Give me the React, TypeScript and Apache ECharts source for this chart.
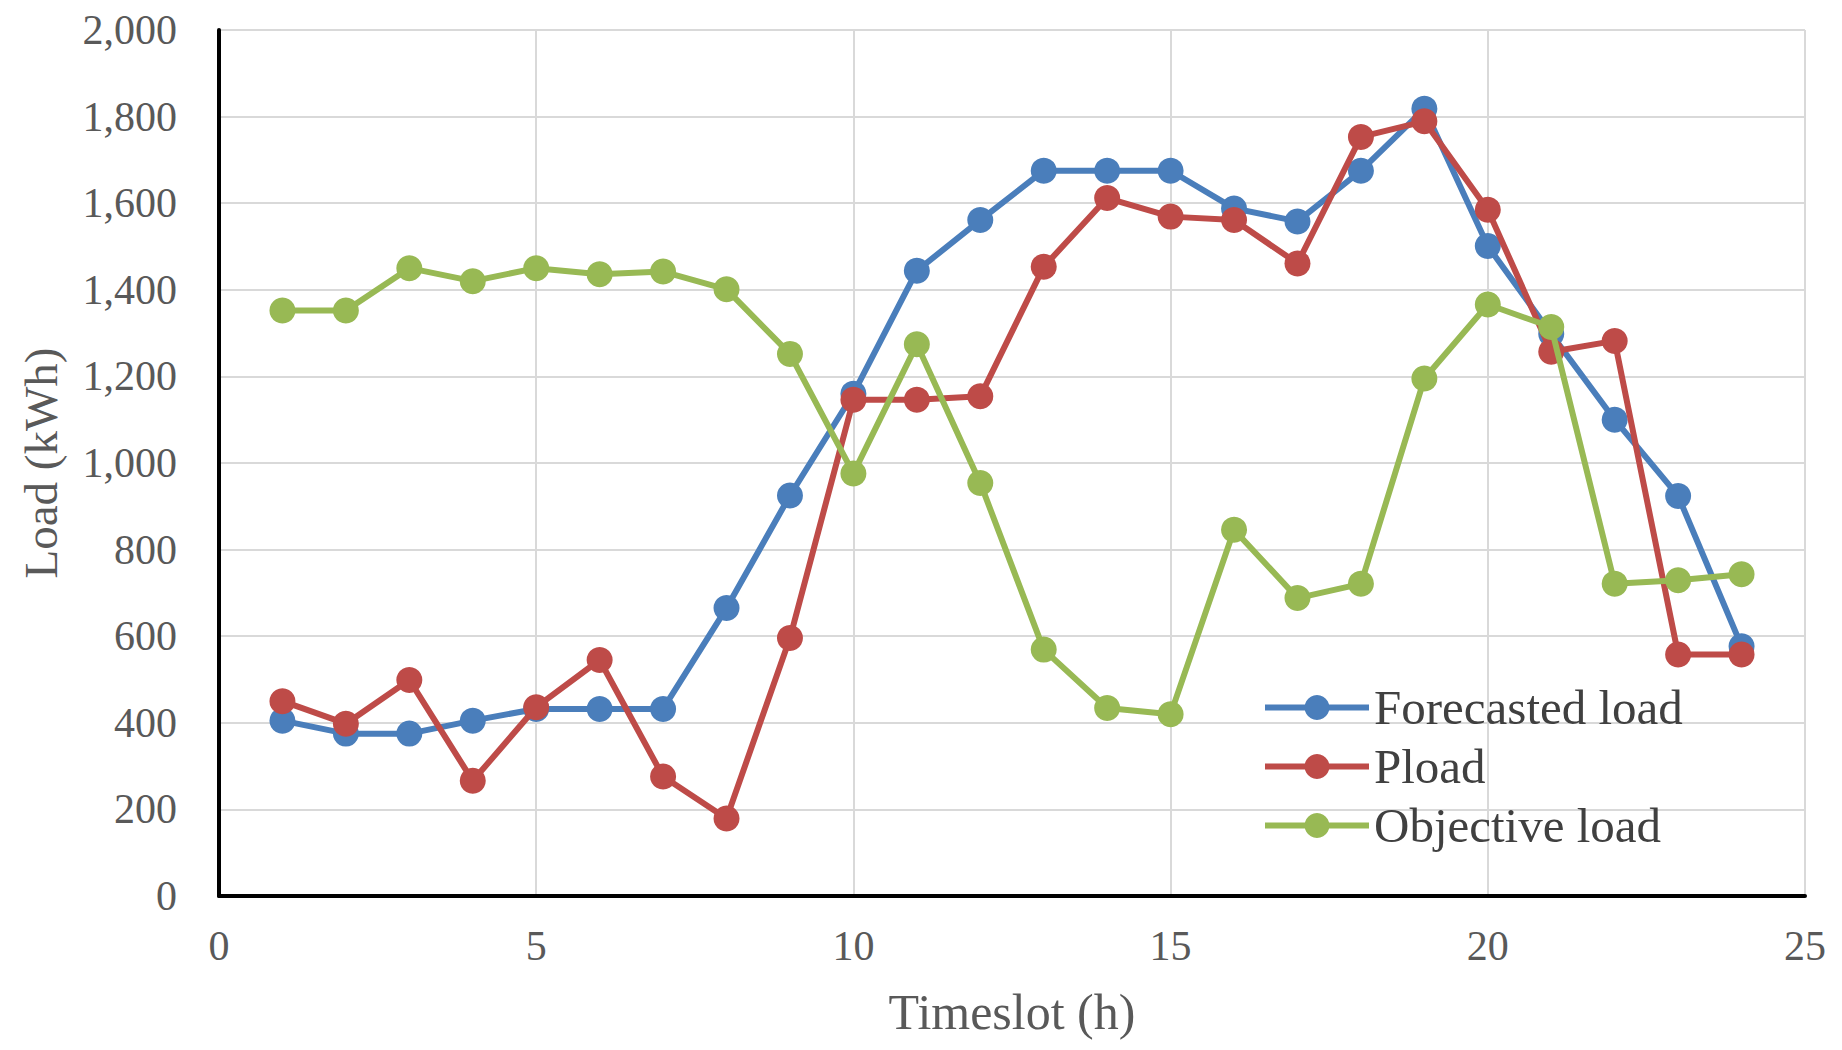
import React, { useEffect, useRef } from "react";
import * as echarts from "echarts";

const timeslots = [1, 2, 3, 4, 5, 6, 7, 8, 9, 10, 11, 12, 13, 14, 15, 16, 17, 18, 19, 20, 21, 22, 23, 24];
const forecastedLoad = [405, 375, 375, 405, 432, 432, 432, 665, 925, 1160, 1444, 1561, 1675, 1675, 1675, 1588, 1558, 1675, 1818, 1501, 1298, 1100, 924, 577];
const pload = [450, 398, 499, 266, 436, 545, 276, 179, 596, 1146, 1146, 1154, 1453, 1612, 1569, 1561, 1461, 1753, 1789, 1585, 1257, 1282, 558, 558];
const objectiveLoad = [1352, 1352, 1450, 1420, 1450, 1436, 1442, 1401, 1252, 976, 1274, 954, 569, 434, 420, 846, 688, 721, 1195, 1366, 1314, 721, 729, 743];
const seriesNames = ["Forecasted load", "Pload", "Objective load"];
const seriesColors = ["#4A7EBB", "#BE4B48", "#98B954"];

const FONT = "'Liberation Serif', 'Times New Roman', serif";

export default function App() {
  const ref = useRef<HTMLDivElement>(null);
  useEffect(() => {
    if (!ref.current) return;
    const chart = echarts.init(ref.current, undefined, { renderer: "svg" });
    const values = [forecastedLoad, pload, objectiveLoad];
    chart.setOption({
      animation: false,
      backgroundColor: "#ffffff",
      grid: { left: 219, right: 37, top: 30, bottom: 154, containLabel: false },
      xAxis: {
        type: "value",
        min: 0,
        max: 25,
        interval: 5,
        name: "Timeslot (h)",
        nameLocation: "middle",
        nameGap: 91,
        nameTextStyle: { fontFamily: FONT, fontSize: 50, color: "#595959" },
        axisLine: { show: true, onZero: false, lineStyle: { color: "#000000", width: 4 } },
        axisTick: { show: false },
        axisLabel: { fontFamily: FONT, fontSize: 42, color: "#595959", margin: 29 },
        splitLine: { show: true, lineStyle: { color: "#D9D9D9", width: 2 } },
      },
      yAxis: {
        type: "value",
        min: 0,
        max: 2000,
        interval: 200,
        name: "Load (kWh)",
        nameLocation: "middle",
        nameGap: 155,
        nameTextStyle: { fontFamily: FONT, fontSize: 47, color: "#595959" },
        axisLine: { show: true, lineStyle: { color: "#000000", width: 4 } },
        axisTick: { show: false },
        axisLabel: {
          fontFamily: FONT,
          fontSize: 42,
          color: "#595959",
          margin: 42,
          formatter: (v: number) => v.toLocaleString("en-US"),
        },
        splitLine: { show: true, lineStyle: { color: "#D9D9D9", width: 2 } },
      },
      legend: {
        orient: "vertical",
        left: 1257,
        top: 678,
        itemWidth: 104,
        itemHeight: 31,
        itemGap: 10,
        lineStyle: { width: 6 },
        textStyle: { fontFamily: FONT, fontSize: 49, color: "#404040", lineHeight: 48 },
        data: seriesNames,
      },
      series: seriesNames.map((name, i) => ({
        name,
        type: "line",
        data: timeslots.map((t, j) => [t, values[i][j]]),
        symbol: "circle",
        symbolSize: 26,
        color: seriesColors[i],
        lineStyle: { width: 6, color: seriesColors[i] },
        itemStyle: { color: seriesColors[i] },
        z: 2 + i,
      })),
    });
    return () => chart.dispose();
  }, []);
  return (
    <div
      ref={ref}
      style={{ position: "fixed", left: 0, top: 0, width: 1842, height: 1050, background: "#fff" }}
    />
  );
}
